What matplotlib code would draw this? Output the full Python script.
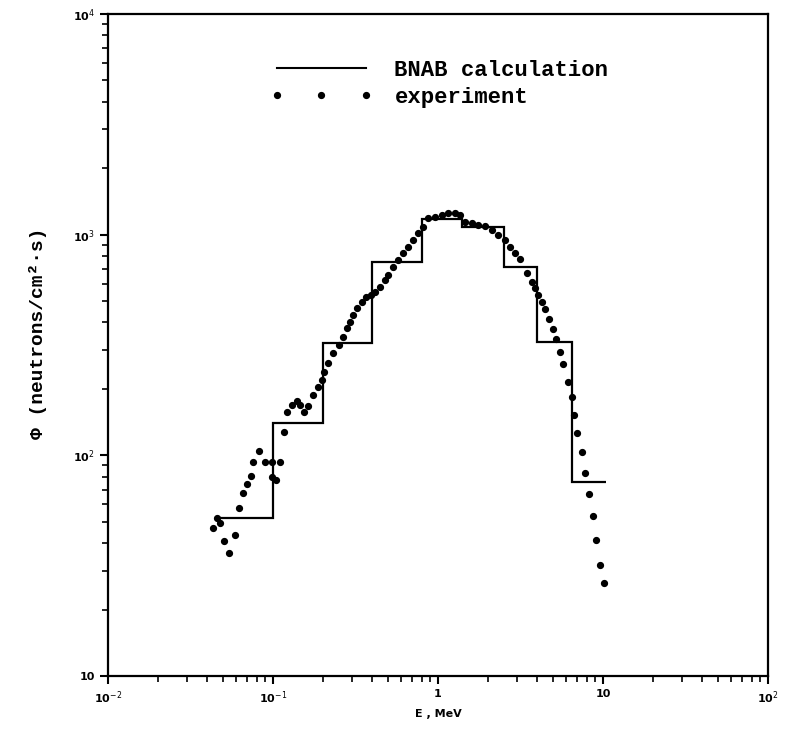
import numpy as np
import matplotlib
matplotlib.use('Agg')
import matplotlib.pyplot as plt
from matplotlib.lines import Line2D

# BNAB group structure (MeV) and calculated flux
bnab_edges = [0.0465, 0.1, 0.2, 0.4, 0.8, 1.4, 2.5, 4.0, 6.5, 10.5]
bnab_flux = [52, 140, 323, 752, 1178, 1082, 713, 326, 76]

exp_E = [0.0435, 0.0456, 0.0478, 0.0505, 0.0543, 0.0589, 0.0626, 0.0655, 0.0694, 0.0733,
         0.0761, 0.0826, 0.0894, 0.0982, 0.0982, 0.1043, 0.110, 0.1167, 0.1222, 0.1297,
         0.1394, 0.146, 0.154, 0.1637, 0.1753, 0.188, 0.197, 0.2037, 0.2163, 0.232,
         0.2523, 0.2667, 0.2797, 0.2929, 0.3067, 0.3245, 0.3449, 0.3662, 0.3908, 0.415,
         0.4452, 0.4777, 0.5003, 0.5358, 0.574, 0.616, 0.661, 0.7085, 0.7598, 0.8147,
         0.8735, 0.959, 1.053, 1.154, 1.268, 1.359, 1.458, 1.60, 1.755, 1.927,
         2.116, 2.321, 2.547, 2.732, 2.929, 3.141, 3.448, 3.698, 3.873, 4.055,
         4.251, 4.451, 4.706, 4.955, 5.19, 5.483, 5.745, 6.095, 6.49, 6.70,
         6.93, 7.43, 7.78, 8.22, 8.73, 9.10, 9.59, 10.14]
exp_flux = [46.7, 51.8, 49.2, 40.9, 36.2, 43.5, 57.5, 67.7, 74.1, 80.9,
            93.5, 104.6, 93.5, 93.5, 80.0, 77.3, 93.5, 127.1, 157.6, 169,
            176.7, 169, 157.6, 167.3, 187.7, 204.6, 219.4, 239.2, 261.1, 289.8,
            316, 344.7, 376.3, 403, 432.3, 463.5, 496.6, 523.1, 532.5, 551.2,
            580.7, 622.8, 656.1, 715.4, 767.4, 823, 881.5, 945.2, 1014, 1086,
            1186, 1205, 1227, 1249, 1257, 1227, 1144, 1125, 1105, 1094,
            1049, 995.8, 945, 881.5, 823, 772.7, 667.8, 611.8, 571, 532.5,
            496.6, 458.6, 414.6, 373.5, 335.5, 293.8, 258.4, 215.6, 183.4, 152.2,
            126.6, 103.2, 83.4, 66.6, 53.1, 41.3, 31.8, 26.5]

mono = ['Liberation Mono', 'DejaVu Sans Mono']

fig = plt.figure(figsize=(7.88, 7.31), dpi=100)
ax = fig.add_axes([108/788, 1 - 676/731, 660/788, 662/731])

# calculated group fluxes as a histogram, no drop to the baseline
ax.stairs(bnab_flux, bnab_edges, baseline=None, color='black', linewidth=1.6)
ax.plot(exp_E, exp_flux, linestyle='none', marker='o', markersize=4.2, color='black')

ax.set_xscale('log')
ax.set_yscale('log')
ax.set_xlim(1e-2, 1e2)
ax.set_ylim(10, 1e4)

ax.set_xticks([1e-2, 1e-1, 1, 10, 1e2])
ax.set_xticklabels(['10$^{-2}$', '10$^{-1}$', '1', '10', '10$^{2}$'])
ax.set_yticks([10, 1e2, 1e3, 1e4])
ax.set_yticklabels(['10', '10$^{2}$', '10$^{3}$', '10$^{4}$'])
for lab in ax.get_xticklabels() + ax.get_yticklabels():
    lab.set_fontweight('bold')
    lab.set_fontsize(8)

ax.tick_params(which='major', direction='out', length=6, width=1.5)
ax.tick_params(which='minor', direction='out', length=4, width=1.2)
for s in ax.spines.values():
    s.set_linewidth(1.6)

ax.set_xlabel('E , MeV', fontsize=8, fontweight='bold', labelpad=2)
ax.set_ylabel('Φ (neutrons/cm²·s)', family=mono, fontsize=14, fontweight='bold')
ax.yaxis.set_label_coords(-0.092, 0.518)

handles = [Line2D([], [], color='black', linewidth=1.5),
           Line2D([], [], linestyle='none', marker='o', markersize=4.2, color='black')]
ax.legend(handles, ['BNAB calculation', 'experiment'], loc='upper left',
          bbox_to_anchor=(270/788, 1 - 60/731), bbox_transform=fig.transFigure,
          frameon=False, numpoints=3, handlelength=4.6, handletextpad=1.0,
          labelspacing=0.25, borderpad=0, borderaxespad=0,
          prop={'family': mono, 'size': 16, 'weight': 'bold'})

fig.savefig('out.png', dpi=100)
